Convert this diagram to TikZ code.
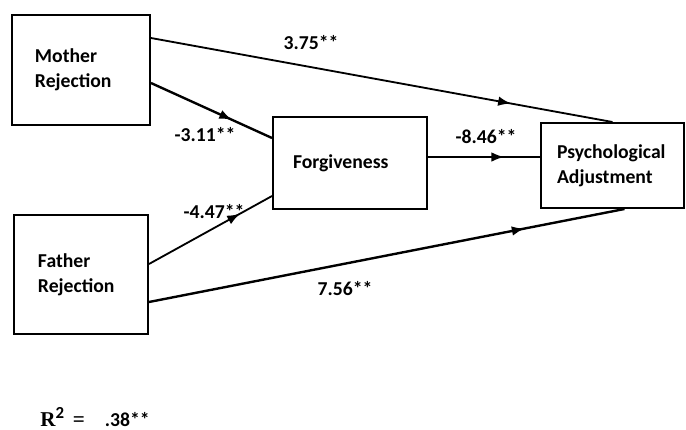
\documentclass[tikz,border=0pt]{standalone}
\usepackage{fontspec}
\setmainfont{Carlito}
\newfontfamily\rsqfont{Liberation Serif}
\usetikzlibrary{arrows.meta,decorations.markings}

\tikzstyle{element}=[rectangle, draw, line width=1.4pt, align=left,
                     font=\fontsize{14}{17.7}\selectfont\bfseries]
\tikzstyle{coef}=[inner sep=0.05cm, font=\fontsize{14}{17}\selectfont\bfseries]
\tikzstyle{path}=[line width=1.3pt]
\tikzset{midarrow/.style={postaction={decorate},
  decoration={markings, mark=at position #1 with {\arrow{Latex[length=0.32cm,width=0.24cm]}}}}}

\begin{document}
\begin{tikzpicture}
\useasboundingbox (0,0) rectangle (17.15,10.725);

%%%%%%%%%%%%%%%%%%%%%%%%%%%%%%
% nodes

% predictors
\node (mother) at (2.025, 8.975) [element, inner xsep=0.575cm, text width=2.3cm, minimum height=2.75cm] {Mother\\Rejection};
\node (father) at (2.025, 3.8625) [element, inner xsep=0.6cm, text width=2.15cm, minimum height=2.975cm] {Father\\Rejection};

% mediator
\node (forg) at (8.75, 6.65) [element, inner xsep=0.5cm, text width=2.85cm, minimum height=2.3cm] {Forgiveness};

% outcome
\node (psych) at (15.3125, 6.5875) [element, inner xsep=0.4cm, text width=2.775cm, minimum height=2.125cm] {Psychological\\Adjustment};

%%%%%%%%%%%%%%%%%%%%%%%%%%%%%%
% links

\draw [path, midarrow=0.78] ([yshift=0.8cm]mother.east) to (psych.north);
\draw [path, line width=1.7pt, midarrow=0.67] ([yshift=-0.325cm]mother.east) to ([yshift=0.625cm]forg.west);
\draw [path, midarrow=0.74] ([yshift=0.2625cm]father.east) to ([yshift=-0.825cm]forg.west);
\draw [path, line width=1.7pt, midarrow=0.79] ([yshift=-0.6875cm]father.east) to ([xshift=0.3cm]psych.south);
\draw [path, midarrow=0.68] ([yshift=0.15cm]forg.east) to ([yshift=0.2125cm]psych.west);

%%%%%%%%%%%%%%%%%%%%%%%%%%%%%%
% coefficients

\node (c_mp) at (7.775, 9.65) [coef] {3.75**};
\node (c_mf) at (5.125, 7.35) [coef] {-3.11**};
\node (c_ff) at (5.35, 5.425) [coef] {-4.47**};
\node (c_fp) at (8.625, 3.5) [coef] {7.56**};
\node (c_fo) at (12.15, 7.3) [coef] {-8.46**};

% R squared
\node (rsq) at (1.0, 0.075) [anchor=base west, inner sep=0] {{\rsqfont\fontsize{15}{15}\selectfont\bfseries R}\raisebox{0.2cm}{\fontsize{12}{12}\selectfont\bfseries 2}\hspace{0.22cm}{\rsqfont\fontsize{15}{15}\selectfont\bfseries =}\hspace{0.5cm}{\fontsize{14}{14}\selectfont\bfseries .38**}};

\end{tikzpicture}
\end{document}
